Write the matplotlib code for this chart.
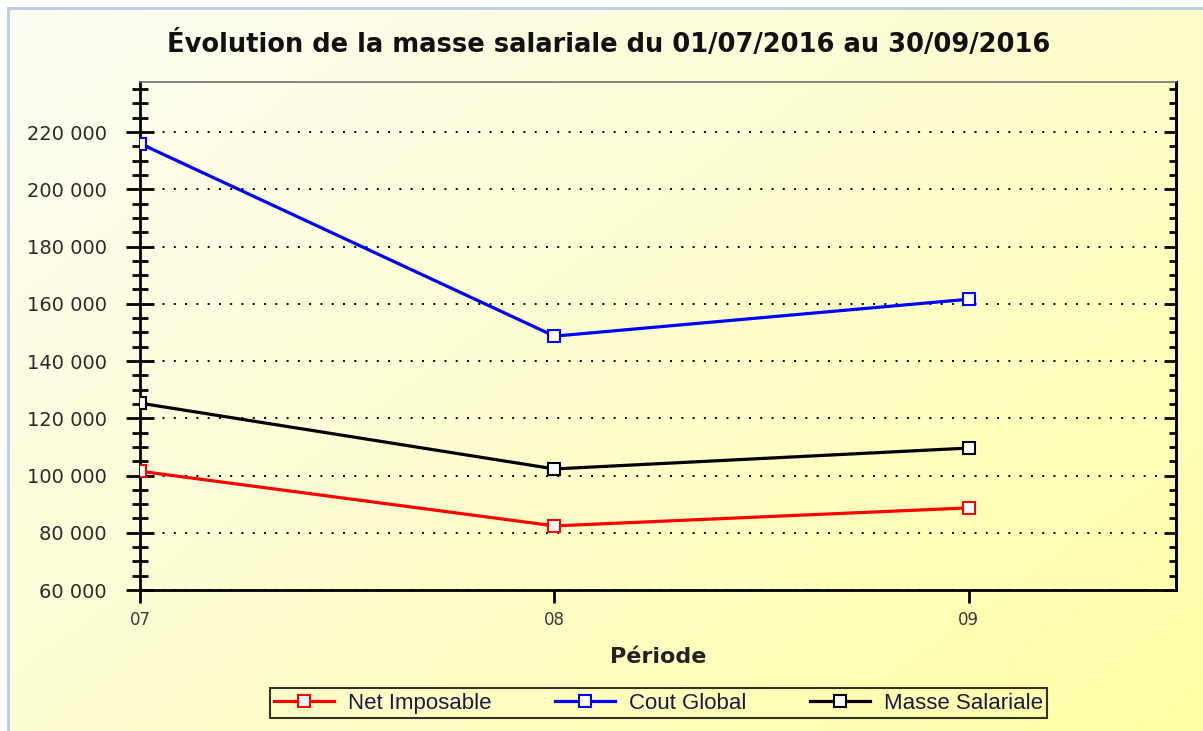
import numpy as np
import matplotlib
matplotlib.use("Agg")
import matplotlib.pyplot as plt
from matplotlib.ticker import MultipleLocator, FuncFormatter

# data
periods = ["07", "08", "09"]
net_imposable = [101500, 82400, 88700]
cout_global = [216000, 148700, 161600]
masse_salariale = [125300, 102300, 109600]

series = [
    ("Net Imposable", net_imposable, "#ff0000"),
    ("Cout Global", cout_global, "#0000ff"),
    ("Masse Salariale", masse_salariale, "#000000"),
]

W, H = 1203, 731
fig = plt.figure(figsize=(W / 100, H / 100), dpi=100)
fig.patch.set_facecolor("white")

# gradient background (cream top-left -> yellow bottom-right)
bg = fig.add_axes([8 / W, 0, 1 - 8 / W, 1 - 8 / H], zorder=-5)
gx = np.linspace(0, 1, 300)
gy = np.linspace(0, 1, 200)
X, Y = np.meshgrid(gx, gy)
t = np.clip((X * 0.55 + Y * 0.45), 0, 1) ** 1.1
c0 = np.array([253, 253, 244]) / 255
c1 = np.array([255, 255, 165]) / 255
img = c0[None, None, :] * (1 - t[..., None]) + c1[None, None, :] * t[..., None]
bg.imshow(img, aspect="auto", extent=[0, 1, 0, 1], origin="upper")
bg.set_xticks([])
bg.set_yticks([])
for s in ["right", "bottom"]:
    bg.spines[s].set_visible(False)
for s in ["left", "top"]:
    bg.spines[s].set_color("#b8cce4")
    bg.spines[s].set_linewidth(2)

ax = fig.add_axes([140 / W, 1 - 590 / H, 1036 / W, 508 / H])
ax.set_facecolor("none")

x = np.arange(len(periods))
for name, vals, col in series:
    ax.plot(x, vals, color=col, lw=2.3, marker="s", ms=8.5,
            mfc="white", mec=col, mew=1.5, label=name, zorder=3)

ax.set_xlim(0, 2.5)
ax.set_ylim(60000, 237500)
ax.set_xticks(x)
ax.set_xticklabels(periods)
ax.yaxis.set_major_locator(MultipleLocator(20000))
ax.yaxis.set_minor_locator(MultipleLocator(5000))
ax.yaxis.set_major_formatter(FuncFormatter(lambda v, p: "{:,}".format(int(v)).replace(",", " ")))

ax.grid(axis="y", which="major", color="black", lw=1.4, linestyle=(0, (1, 4.8)))

ax.tick_params(axis="y", which="major", direction="inout", length=20, width=2,
               labelsize=14, labelcolor="#2a2a2a", pad=14)
ax.tick_params(axis="y", which="minor", direction="inout", length=12, width=2)
ax.tick_params(axis="x", which="major", direction="out", length=9, width=2,
               labelsize=12, labelcolor="#3a3a3a", pad=6)

for s in ["left", "bottom", "right"]:
    ax.spines[s].set_linewidth(2)
    ax.spines[s].set_color("black")
ax.spines["top"].set_linewidth(1.2)
ax.spines["top"].set_color("#707070")

# right side ticks pointing inward
sec = ax.secondary_yaxis("right")
sec.yaxis.set_major_locator(MultipleLocator(20000))
sec.yaxis.set_minor_locator(MultipleLocator(5000))
sec.tick_params(which="major", direction="in", length=9, width=2, labelright=False)
sec.tick_params(which="minor", direction="in", length=5, width=2)
sec.spines["right"].set_linewidth(2)

fig.text(609 / W, 1 - 45 / H, "Évolution de la masse salariale du 01/07/2016 au 30/09/2016",
         ha="center", va="center", fontsize=18.5, fontweight="bold", color="#111111")
fig.text(658 / W, 1 - 657 / H, "Période", ha="center", va="center",
         fontsize=16, fontweight="bold", color="#222222")

handles, labels = ax.get_legend_handles_labels()
leg = fig.legend(handles, labels, loc="lower left", ncol=3, mode="expand",
                 bbox_to_anchor=(270 / W, 1 - 718 / H, 777 / W, 28 / H),
                 frameon=True, fancybox=False, handlelength=2.7,
                 prop={"family": "Liberation Sans", "size": 16},
                 handletextpad=0.6, borderpad=0.2, borderaxespad=0)
leg.get_frame().set_edgecolor("black")
leg.get_frame().set_linewidth(1.5)
leg.get_frame().set_facecolor("none")
for txt in leg.get_texts():
    txt.set_color("#1a1a40")

fig.savefig("out.png", dpi=100)
